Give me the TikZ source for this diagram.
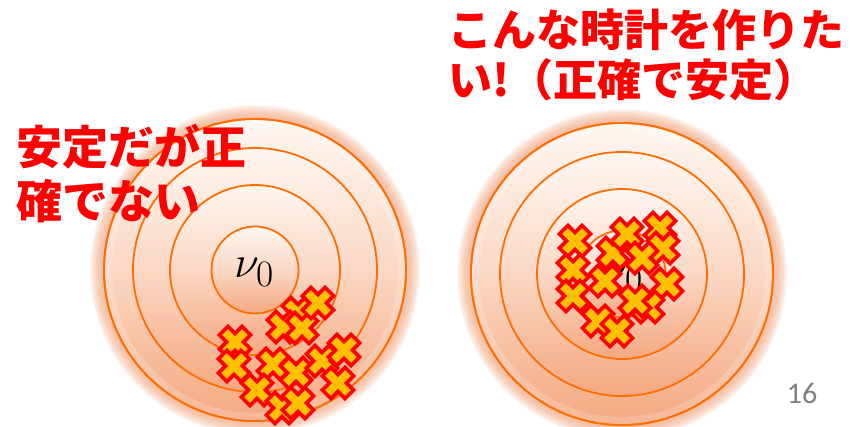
\documentclass[tikz,border=0pt]{standalone}
\usepackage{fontspec}
\newfontfamily\cjk{Noto Sans CJK JP}
\newfontfamily\numfont{Carlito}
\definecolor{ringorange}{RGB}{255,110,0}
\definecolor{peach}{RGB}{244,168,128}
\definecolor{lightpeach}{RGB}{255,247,242}
\definecolor{xyellow}{RGB}{255,192,0}
\definecolor{xred}{RGB}{255,0,0}
\definecolor{numgray}{RGB}{128,128,128}
\tikzset{
  ringdisk/.style={draw=ringorange, line width=1.8pt, top color=lightpeach, bottom color=peach, middle color=peach!40!lightpeach},
  crossmark/.pic={\draw[xred, fill=xyellow, line width=3.6pt, line join=miter, rotate=45]
     (-6,-16) -- (6,-16) -- (6,-6) -- (16,-6) -- (16,6) -- (6,6) -- (6,16)
     -- (-6,16) -- (-6,6) -- (-16,6) -- (-16,-6) -- (-6,-6) -- cycle;},
  redtext/.style={text=xred, inner sep=0pt, anchor=base west},
  nutext/.style={inner sep=0pt, anchor=base west, font=\Huge, scale=1.8},
}
\newcommand{\drawtarget}[2]{%
  \foreach \k in {1,...,10}{\pgfmathsetmacro\rr{151+1.4*\k}\fill[peach, opacity=0.12] (#1,#2) circle (\rr pt);}
  \path[ringdisk] (#1,#2) circle (151pt);
  \foreach \k in {0,...,4}{\pgfmathsetmacro\rr{150-1.6*\k}\draw[white, opacity=0.18, line width=1.6pt] (#1,#2) circle (\rr pt);}
  \draw[ringorange, line width=1.8pt] (#1,#2) circle (151pt);
  \path[ringdisk] (#1,#2) circle (122pt);
  \path[ringdisk] (#1,#2) circle (85pt);
  \path[ringdisk] (#1,#2) circle (43.5pt);
}
\begin{document}
\begin{tikzpicture}[x=1pt,y=-1pt]
\fill[white] (0,0) rectangle (857,427);
\useasboundingbox (0,0) rectangle (857,427);
% left target
\drawtarget{255}{270}
\node[nutext] (nuL) at (234,278) {$\nu_0$};
\foreach \x/\y in {298/313,283/327,302/328,318/303,235/342,234/366,273/364,257/390,296/373,322/361,344/350,338/383,282/408,298/403}
  \pic at (\x,\y) {crossmark};
% right target
\drawtarget{622}{274}
\node[nutext] (nuR) at (603,283) {$\nu_0$};
\foreach \x/\y in {575/241,613/253,627/234,660/228,663/248,642/258,573/270,605/281,667/284,573/296,648/307,635/301,598/321,617/331}
  \pic at (\x,\y) {crossmark};
% texts
\node[redtext, font=\cjk\bfseries\fontsize{46}{52}\selectfont] (tL1) at (16,165) {安定だが正};
\node[redtext, font=\cjk\bfseries\fontsize{46}{52}\selectfont] (tL2) at (16,219) {確でない};
\node[redtext, font=\cjk\bfseries\fontsize{44}{50}\selectfont] (tR1) at (448,47) {こんな時計を作りた};
\node[redtext, font=\cjk\bfseries\fontsize{44}{50}\selectfont] (tR2) at (448,97) {い!（正確で安定）};
\node[text=numgray, inner sep=0pt, font=\numfont\fontsize{30}{32}\selectfont] (pnum) at (802,393) {16};
\end{tikzpicture}
\end{document}
